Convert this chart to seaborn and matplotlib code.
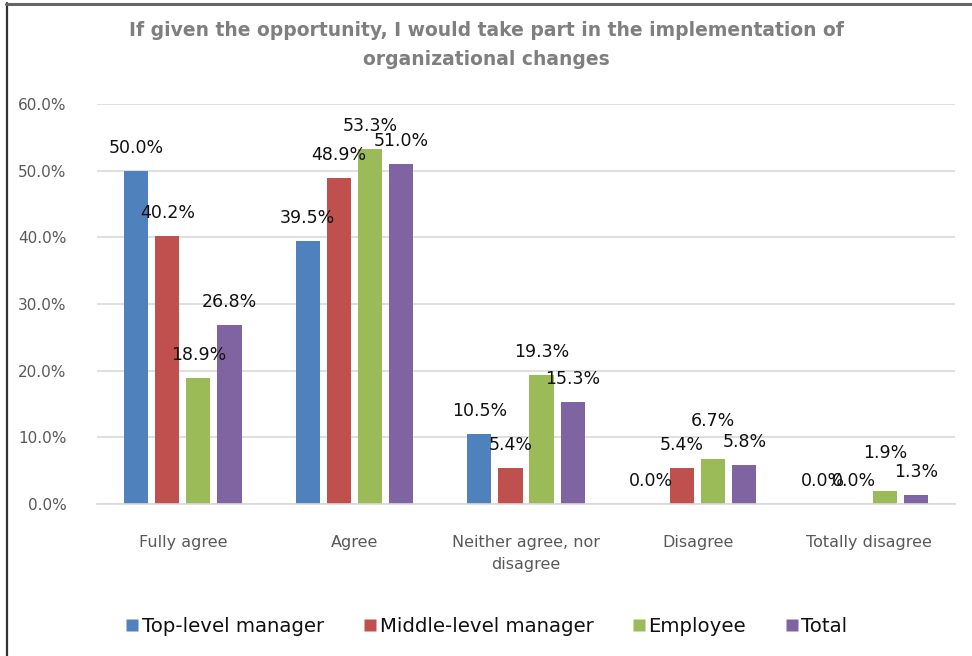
import matplotlib
matplotlib.use("Agg")
import matplotlib.pyplot as plt
from matplotlib.lines import Line2D
from matplotlib.ticker import FuncFormatter
import pandas as pd
import seaborn as sns

categories = ["Fully agree", "Agree", "Neither agree, nor\ndisagree", "Disagree", "Totally disagree"]
groups = ["Top-level manager", "Middle-level manager", "Employee", "Total"]
top_level = [50.0, 39.5, 10.5, 0.0, 0.0]
middle_level = [40.2, 48.9, 5.4, 5.4, 0.0]
employee = [18.9, 53.3, 19.3, 6.7, 1.9]
total = [26.8, 51.0, 15.3, 5.8, 1.3]
colors = ["#4F81BD", "#C0504D", "#9BBB59", "#8064A2"]
title = "If given the opportunity, I would take part in the implementation of\norganizational changes"

series = [top_level, middle_level, employee, total]
df = pd.DataFrame(
    [(c, g, v) for g, vals in zip(groups, series) for c, v in zip(categories, vals)],
    columns=["category", "group", "value"],
)

sns.set_theme(style="white")
plt.rcParams["font.family"] = ["DejaVu Sans"]

fig = plt.figure(figsize=(9.72, 6.56), dpi=100)
ax = fig.add_axes([97 / 972, 1 - 504 / 656, (955 - 97) / 972, 400 / 656])

sns.barplot(
    data=df, x="category", y="value", hue="group", order=categories,
    hue_order=groups, palette=colors, saturation=1, width=0.725, gap=0.22,
    edgecolor="none", linewidth=0, ax=ax, legend=False, errorbar=None,
)

for gi, cont in enumerate(ax.containers):
    texts = ax.bar_label(cont, labels=[f"{v:.1f}%" for v in cont.datavalues],
                         padding=10, fontsize=12.5, color="#111111")
    # lift the small employee labels above their crowded neighbours
    if groups[gi] == "Employee":
        for ci in (3, 4):
            x, y = texts[ci].xyann
            texts[ci].xyann = (x, y + 11)

ax.set_ylim(0, 60)
ax.set_yticks(range(0, 61, 10))
ax.yaxis.set_major_formatter(FuncFormatter(lambda v, p: f"{v:.1f}%"))
ax.grid(axis="y", color="#d9d9d9", linewidth=1.2)
ax.set_axisbelow(True)
for s in ["top", "right", "left"]:
    ax.spines[s].set_visible(False)
ax.spines["bottom"].set_color("#d9d9d9")
ax.spines["bottom"].set_linewidth(1.2)
ax.tick_params(axis="y", length=0, pad=22, labelsize=11, labelcolor="#595959")
ax.tick_params(axis="x", length=0, pad=22, labelsize=11.5, labelcolor="#595959")
for t in ax.get_xticklabels():
    t.set_linespacing(1.6)
ax.set_xlabel("")
ax.set_ylabel("")

fig.text(0.5, 1 - 45 / 656, title, ha="center", va="center", fontsize=13.5,
         color="#7f7f7f", fontweight="bold", linespacing=1.7)

handles = [Line2D([], [], marker="s", linestyle="none", markersize=9,
                  markerfacecolor=c, markeredgecolor="none") for c in colors]
fig.legend(handles, groups, loc="center", bbox_to_anchor=(0.5, 1 - 626 / 656),
           ncol=4, frameon=False, fontsize=14.2, handletextpad=0.1,
           columnspacing=1.9, handlelength=0.8, labelcolor="#111111")

# frame around the chart
fig.add_artist(Line2D([6.5 / 972, 6.5 / 972], [0, 1 - 3 / 656], color="#333333",
                      linewidth=1.6, transform=fig.transFigure))
fig.add_artist(Line2D([6 / 972, 1], [1 - 3.5 / 656, 1 - 3.5 / 656], color="#666666",
                      linewidth=2.2, transform=fig.transFigure))

fig.savefig("out.png", dpi=100, facecolor="white")
